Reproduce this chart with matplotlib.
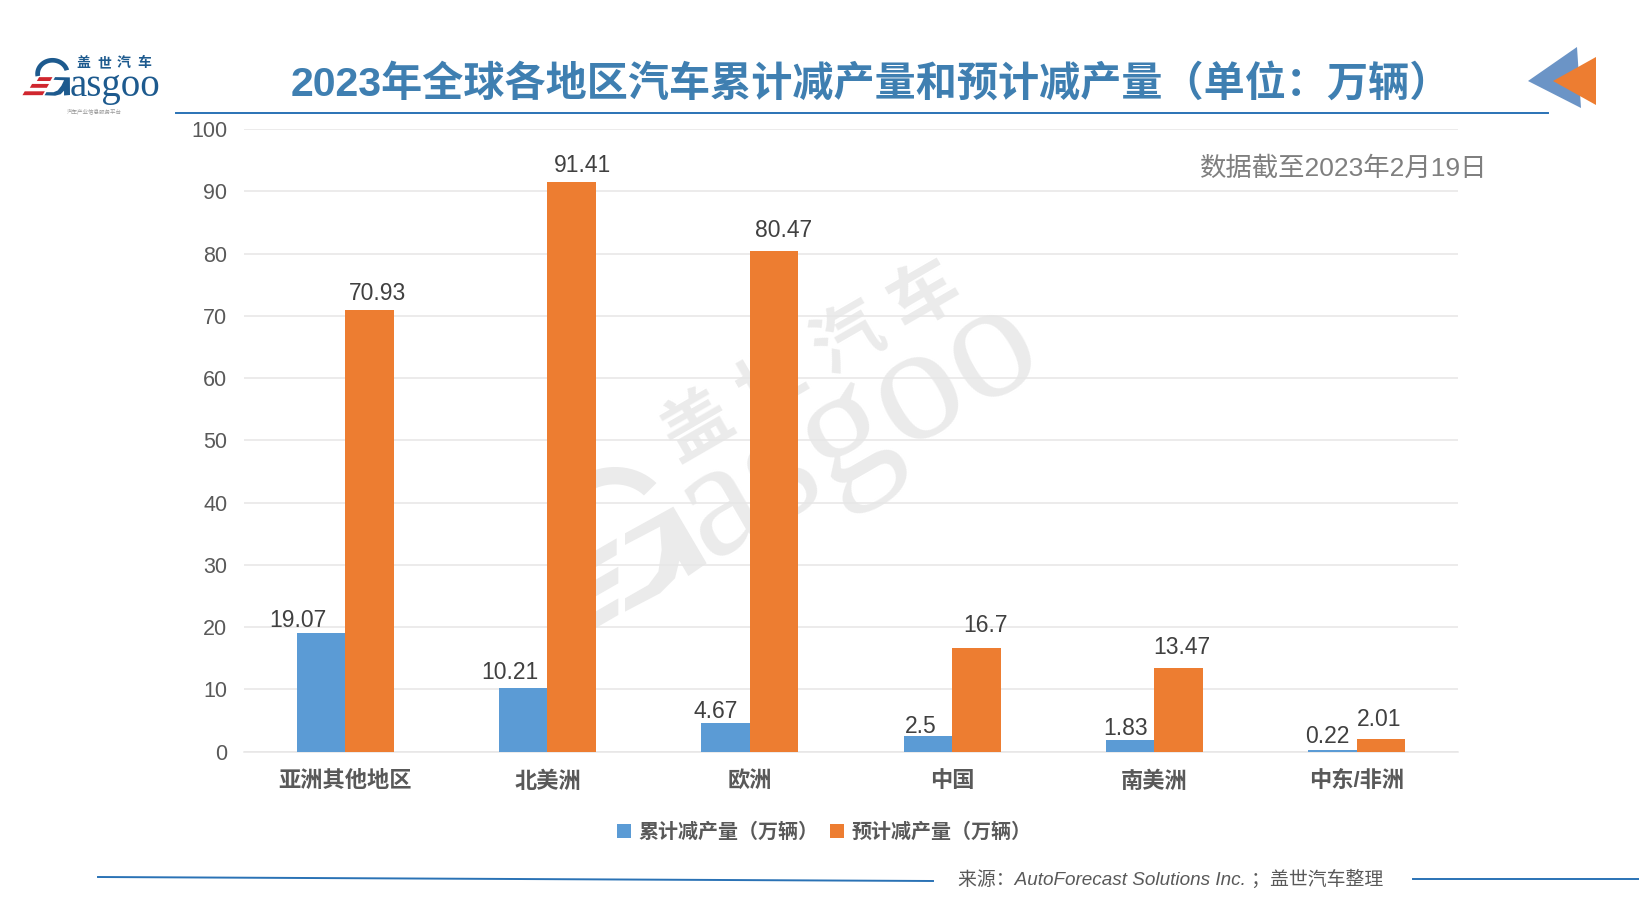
import numpy as np
import matplotlib
matplotlib.use('Agg')
import matplotlib.pyplot as plt
from matplotlib.patches import Polygon

plt.rcParams['font.family'] = ['Liberation Sans', 'Noto Sans CJK SC']

# Chart data
regions = ['亚洲其他地区', '北美洲', '欧洲', '中国', '南美洲', '中东/非洲']
cumulative = [19.07, 10.21, 4.67, 2.5, 1.83, 0.22]
forecast = [70.93, 91.41, 80.47, 16.7, 13.47, 2.01]
cumulative_labels = ['19.07', '10.21', '4.67', '2.5', '1.83', '0.22']
forecast_labels = ['70.93', '91.41', '80.47', '16.7', '13.47', '2.01']
yticks = [0, 10, 20, 30, 40, 50, 60, 70, 80, 90, 100]

# Hand placed data label offsets, in pixels from the top centre of each bar
cumulative_dx = [-22.7, -13.4, -9.5, -7.5, -5, -5.7]
cumulative_dy = [12, 15.5, 11.6, 10, 12.3, 14.3]
forecast_dx = [8.3, 11.2, 9.8, 9, 3, -2.4]
forecast_dy = [17, 16.5, 20.6, 22, 20.8, 19.6]

W, H = 1640, 919
BLUE = '#5b9bd5'
ORANGE = '#ed7d31'
TITLE_BLUE = '#3f7fb1'
LINE_BLUE = '#2a72b5'
GRID = '#e7e6e6'
NAVY = '#1d5a8e'
RED = '#d0262e'
WATERMARK = '#ebebeb'

# G of the logo, traced off the big watermark (crop pixels, 3x)
G_BODY = [(195, 850), (340, 770), (440, 940), (385, 978), (358, 932), (345, 985), (300, 1030),
          (195, 1085), (195, 1045), (265, 1005), (295, 965), (305, 900), (300, 830), (195, 885)]
STRIPES = [[(170, 865), (170, 915), (40, 990), (40, 940)],
           [(175, 950), (175, 1000), (10, 1095), (10, 1045)],
           [(175, 1045), (175, 1095), (-20, 1208), (-20, 1158)]]
G_TIP = (440, 940)


def arc_points():
    u = np.array([0.866, -0.5])
    v = np.array([-0.5, -0.866])
    c = np.array([151, 832])
    t = np.radians(np.linspace(15, 190, 40))
    outer = [c + 193 * np.cos(a) * u + 177 * np.sin(a) * v for a in t]
    inner = [c + 140 * np.cos(a) * u + 125 * np.sin(a) * v for a in t[::-1]]
    return outer + inner


# Watermark position on the page
def to_watermark(p):
    return 560 + p[0] / 3, 250 + p[1] / 3


# Corner logo position on the page, the same G turned back and scaled down
def to_corner(p):
    dx, dy = p[0] - G_TIP[0], p[1] - G_TIP[1]
    return 70 + (dx * 0.866 - dy * 0.5) / 11.2, 95 + (dx * 0.5 + dy * 0.866) / 11.2


def draw_g(ax, place, navy, red):
    ax.add_patch(Polygon([place(p) for p in arc_points()], closed=True, fc=navy, ec='none'))
    ax.add_patch(Polygon([place(p) for p in G_BODY], closed=True, fc=navy, ec='none'))
    for stripe in STRIPES:
        ax.add_patch(Polygon([place(p) for p in stripe], closed=True, fc=red, ec='none'))


fig = plt.figure(figsize=(W / 100, H / 100), dpi=100, facecolor='white')

# Full page layer in pixel coordinates for the slide decoration
page = fig.add_axes([0, 0, 1, 1], zorder=0)
page.set_xlim(0, W)
page.set_ylim(H, 0)
page.axis('off')

# Watermark
draw_g(page, to_watermark, WATERMARK, WATERMARK)
page.text(708, 561, 'asgoo', family='Liberation Serif', fontsize=121, color=WATERMARK, rotation=30,
          rotation_mode='anchor', ha='left', va='baseline')
for i, ch in enumerate('盖世汽车'):
    page.text(698 + 75.7 * i, 428 - 43.6 * i, ch, fontsize=50, fontweight='bold', color=WATERMARK,
              rotation=30, rotation_mode='anchor', ha='center', va='center')

# Corner logo
draw_g(page, to_corner, NAVY, RED)
page.text(70, 96, 'asgoo', family='Liberation Serif', fontsize=28, color=NAVY, ha='left', va='baseline')
for ch, cx in zip('盖世汽车', [83, 104, 124, 144]):
    page.text(cx, 63, ch, fontsize=10, fontweight='bold', color=NAVY, ha='center', va='center')
page.text(94, 111, '汽车产业信息服务平台', fontsize=4, color='#999999', ha='center', va='center')

page.text(871, 84, '2023年全球各地区汽车累计减产量和预计减产量（单位：万辆）', fontsize=29.6,
          fontweight='bold', color=TITLE_BLUE, ha='center', va='center')
page.plot([176, 1548], [112.7, 112.7], color=LINE_BLUE, lw=1.4)
page.add_patch(Polygon([(1528, 81), (1577, 47), (1581, 108)], fc='#6b94c6', ec='none'))
page.add_patch(Polygon([(1553, 81), (1596, 57), (1596, 105)], fc=ORANGE, ec='none'))

page.plot([98, 933], [877, 881], color=LINE_BLUE, lw=1.4)
page.plot([1413, W], [879, 879], color=LINE_BLUE, lw=1.4)
page.text(958, 879, '来源：AutoForecast Solutions Inc. ；盖世汽车整理', fontsize=13.6, style='italic',
          color='#595959', ha='left', va='center')

# The chart itself
ax = fig.add_axes([244 / W, 1 - 751.7 / H, (1458 - 244) / W, (751.7 - 129) / H], zorder=1)
ax.patch.set_alpha(0)
x = np.arange(len(regions))
width = 0.24
bars1 = ax.bar(x - width / 2, cumulative, width, color=BLUE, label='累计减产量（万辆）', zorder=3)
bars2 = ax.bar(x + width / 2, forecast, width, color=ORANGE, label='预计减产量（万辆）', zorder=3)

ax.set_xlim(-0.5, 5.5)
ax.set_ylim(0, 100)
ax.set_yticks(yticks)
ax.set_xticks(x)
ax.set_xticklabels(regions, fontsize=16, fontweight='bold', color='#595959')
ax.tick_params(axis='x', length=0, pad=14)
ax.tick_params(axis='y', length=0, pad=12, labelsize=15.5, labelcolor='#595959')
ax.yaxis.grid(True, color=GRID, lw=1.1, zorder=0)
ax.set_axisbelow(True)
for name in ['top', 'left', 'right']:
    ax.spines[name].set_visible(False)
ax.spines['bottom'].set_color(GRID)
ax.spines['bottom'].set_linewidth(1.1)

for bars, labels, dxs, dys in [(bars1, cumulative_labels, cumulative_dx, cumulative_dy),
                               (bars2, forecast_labels, forecast_dx, forecast_dy)]:
    for bar, text, dx, dy in zip(bars, labels, dxs, dys):
        ax.annotate(text, (bar.get_x() + bar.get_width() / 2, bar.get_height()),
                    xytext=(dx * 0.72, dy * 0.72), textcoords='offset points',
                    ha='center', va='center', fontsize=16.5, color='#404040', zorder=5)

ax.legend(loc='center', bbox_to_anchor=(824 / W, 1 - 832 / H), bbox_transform=fig.transFigure,
          ncol=2, frameon=False, prop={'size': 14.4, 'weight': 'bold'}, labelcolor='#595959',
          handlelength=0.7, handleheight=0.7, handletextpad=0.35, columnspacing=0.6,
          borderpad=0, borderaxespad=0)

# Note on top of everything else
fig.text(1344 / W, 1 - 168 / H, '数据截至2023年2月19日', fontsize=19, fontweight='medium', color='#7f7f7f',
         ha='center', va='center', zorder=5)

fig.savefig('out.png', dpi=100)
